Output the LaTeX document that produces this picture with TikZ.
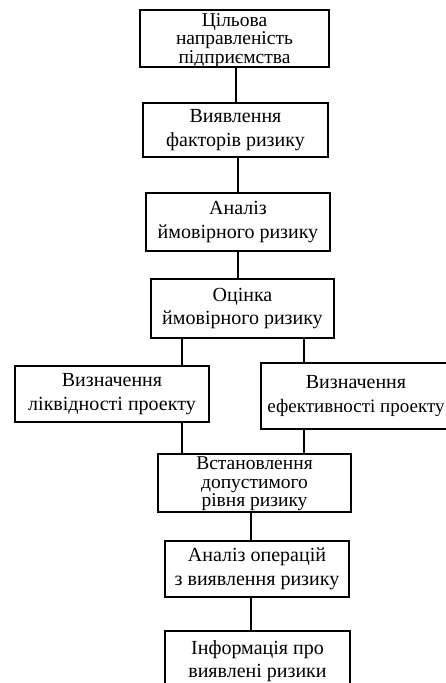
\documentclass[tikz,border=0pt]{standalone}
\usepackage{fontspec}
\setmainfont{Liberation Serif}
\begin{document}
\begin{tikzpicture}[x=1pt,y=-1pt,
  box/.style={draw, line width=1.6pt, inner sep=0pt, align=center},
  lbl/.style={inner sep=0pt, align=center},
  three/.style={font=\fontsize{19.5}{18.5}\selectfont},
  two/.style={font=\fontsize{20}{23.5}\selectfont},
  conn/.style={line width=1.6pt}]
\useasboundingbox (0,0) rectangle (446,683);
\fill[white] (0,0) rectangle (446,683);
\node[box,minimum width=189pt,minimum height=57pt] (b1) at (234.5,38.5) {};
\node[lbl,three] (t1) at (234.5,40.5) {Цільова\\направленість\\підприємства};
\node[box,two,minimum width=185pt,minimum height=54pt] (b2) at (235.5,130) {Виявлення\\факторів ризику};
\node[box,two,minimum width=184pt,minimum height=58pt] (b3) at (238,222) {Аналіз\\ймовірного ризику};
\node[box,two,minimum width=183pt,minimum height=59pt] (b4) at (242.5,308.5) {Оцінка\\ймовірного ризику};
\node[box,two,minimum width=194pt,minimum height=56pt] (b5) at (112,394) {Визначення\\ліквідності проекту};
\node[box,two,minimum width=190pt,minimum height=66pt] (b6) at (356,396) {Визначення\\{\fontsize{19}{23.5}\selectfont ефективності проекту}};
\node[box,minimum width=193pt,minimum height=58pt] (b7) at (254.5,483) {};
\node[lbl,three] (t7) at (254.5,484) {Встановлення\\допустимого\\рівня ризику};
\node[box,two,minimum width=184pt,minimum height=56pt] (b8) at (257,569) {Аналіз операцій\\з виявлення ризику};
\node[box,two,minimum width=185pt,minimum height=60pt] (b9) at (257.5,661) {Інформація про\\виявлені ризики};
\coordinate (x1) at (236,0);
\coordinate (x2) at (238,0);
\coordinate (xl) at (182,0);
\coordinate (xr) at (304,0);
\coordinate (xb) at (251,0);
\draw[conn] (b1.south -| x1) -- (b2.north -| x1);
\draw[conn] (b2.south -| x2) -- (b3.north -| x2);
\draw[conn] (b3.south -| x2) -- (b4.north -| x2);
\draw[conn] (b4.south -| xl) -- (b5.north -| xl);
\draw[conn] (b4.south -| xr) -- (b6.north -| xr);
\draw[conn] (b5.south -| xl) -- (b7.north -| xl);
\draw[conn] (b6.south -| xr) -- (b7.north -| xr);
\draw[conn] (b7.south -| xb) -- (b8.north -| xb);
\draw[conn] (b8.south -| xb) -- (b9.north -| xb);
\end{tikzpicture}
\end{document}
